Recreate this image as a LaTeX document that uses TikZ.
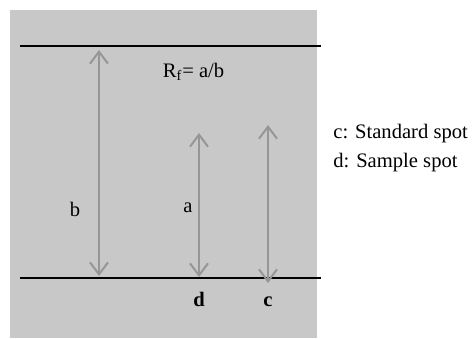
\documentclass[tikz,border=0pt]{standalone}
\usepackage{fontspec}
\setmainfont{Liberation Serif}
\usetikzlibrary{arrows.meta}
\definecolor{plategray}{RGB}{200,200,200}
\definecolor{arrowgray}{RGB}{150,150,150}
\tikzset{
	frontline/.style={line width=1.3pt, black}
}
\tikzset{
	distarrow/.style={line width=1pt, draw=arrowgray,
		{Straight Barb[length=6pt,width=9pt]}-{Straight Barb[length=6pt,width=9pt]}}
}
\tikzset{
	lbl/.style={font=\fontsize{10.3}{12.5}\selectfont, inner sep=0pt}
}
\tikzset{
	spotlbl/.style={font=\fontsize{10.3}{12.5}\selectfont\bfseries, inner sep=0pt}
}

\begin{document}
\begin{tikzpicture}[x=0.5pt,y=-0.5pt]
      \useasboundingbox (0,0) rectangle (472,338);
      \fill[plategray] (10,10) rectangle (317,338);
      % solvent front and start line
      \coordinate (frontL) at (20,46);
      \coordinate (frontR) at (321,46);
      \coordinate (baseL) at (20,278);
      \coordinate (baseR) at (321,278);
      \draw[frontline] (frontL) -- (frontR);
      \draw[frontline] (baseL) -- (baseR);
      % distances
      \coordinate (btop) at (99,50);
      \coordinate (bbot) at (99,276);
      \coordinate (atop) at (199,133);
      \coordinate (abot) at (199,277);
      \coordinate (ctop) at (268,125);
      \coordinate (cbot) at (268,283);
      \draw[distarrow] (btop) -- (bbot);
      \draw[distarrow] (atop) -- (abot);
      \draw[distarrow] (ctop) -- (cbot);
      \node[lbl, anchor=base] (blabel) at (75,216) {b};
      \node[lbl, anchor=base] (alabel) at (188,212) {a};
      \node[lbl, anchor=base] (rf) at (193.5,77) {R\textsubscript{f}= a/b};
      \node[spotlbl, anchor=base] (dspot) at (199,306) {d};
      \node[spotlbl, anchor=base] (cspot) at (268,306) {c};
      % legend
      \node[lbl, anchor=base west] (cleg) at (333,138) {c: Standard spot};
      \node[lbl, anchor=base west] (dleg) at (333,167) {d: Sample spot};
    \end{tikzpicture}
\end{document}
